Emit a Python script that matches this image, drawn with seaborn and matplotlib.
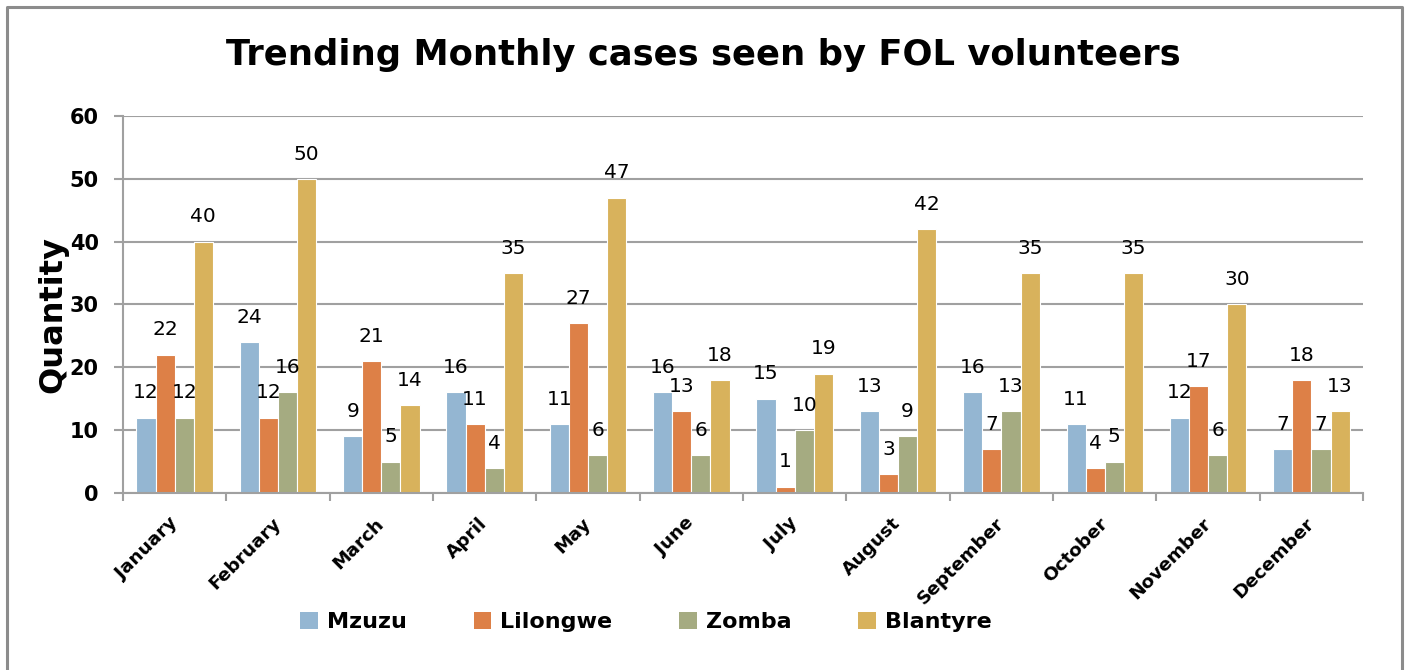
import pandas as pd
import matplotlib
matplotlib.use("Agg")
import matplotlib.pyplot as plt
from matplotlib.lines import Line2D
from matplotlib.patches import Patch
import seaborn as sns

# dados
months = ["January", "February", "March", "April", "May", "June", "July",
          "August", "September", "October", "November", "December"]
mzuzu = [12, 24, 9, 16, 11, 16, 15, 13, 16, 11, 12, 7]
lilongwe = [22, 12, 21, 11, 27, 13, 1, 3, 7, 4, 17, 18]
zomba = [12, 16, 5, 4, 6, 6, 10, 9, 13, 5, 6, 7]
blantyre = [40, 50, 14, 35, 47, 18, 19, 42, 35, 35, 30, 13]
districts = ["Mzuzu", "Lilongwe", "Zomba", "Blantyre"]
colors = ["#94B6D2", "#DD8047", "#A5AB81", "#D8B25C"]

df = pd.DataFrame({"Month": months, "Mzuzu": mzuzu, "Lilongwe": lilongwe,
                   "Zomba": zomba, "Blantyre": blantyre})
long_df = df.melt(id_vars="Month", var_name="District", value_name="Cases")

sns.set_style("white")
plt.rcParams["font.family"] = ["DejaVu Sans"]
plt.rcParams["text.color"] = "black"
plt.rcParams["xtick.labelcolor"] = "black"
plt.rcParams["ytick.labelcolor"] = "black"

fig = plt.figure(figsize=(14.07, 6.70), dpi=100)
ax = fig.add_axes([0.0874, 0.2642, 0.8814, 0.5627])

sns.barplot(data=long_df, x="Month", y="Cases", hue="District",
            hue_order=districts, palette=colors, width=0.74, saturation=1,
            edgecolor="white", linewidth=0.8, ax=ax, legend=False)

for cont in ax.containers:
    ax.bar_label(cont, padding=11, fontsize=14.5, color="black")

ax.set_ylim(0, 60)
ax.set_xlim(-0.5, 11.5)
ax.set_yticks(range(0, 61, 10))
ax.yaxis.grid(True, color="#A0A0A0", linewidth=1.5)
ax.set_axisbelow(True)
ax.set_xlabel("")
ax.set_ylabel("")

for s in ["top", "right"]:
    ax.spines[s].set_visible(False)
for s in ["left", "bottom"]:
    ax.spines[s].set_color("#A0A0A0")
    ax.spines[s].set_linewidth(1.5)

ax.tick_params(axis="y", which="major", left=True, length=6.5, width=1.5,
               color="#A0A0A0", pad=11, labelsize=15)
for t in ax.get_yticklabels():
    t.set_fontweight("bold")

# ticks entre categorias
ax.set_xticks([i - 0.5 for i in range(13)], minor=True)
ax.tick_params(axis="x", which="minor", bottom=True, length=6, width=1.5,
               color="#A0A0A0")
ax.tick_params(axis="x", which="major", bottom=False, length=0, pad=20)
ax.set_xticks(range(12))
ax.set_xticklabels(months, rotation=45, ha="right", va="center",
                   rotation_mode="anchor", fontsize=13.3, fontweight="bold")

fig.text(0.5, 1 - 55 / 670, "Trending Monthly cases seen by FOL volunteers",
         ha="center", va="center", fontsize=25.5, fontweight="bold")
fig.text(53 / 1407, 1 - 315 / 670, "Quantity", ha="center", va="center",
         rotation=90, fontsize=23, fontweight="bold")

handles = [Patch(facecolor=c, edgecolor="none") for c in colors]
fig.legend(handles, districts, loc="center", bbox_to_anchor=(0.459, 1 - 622 / 670),
           ncol=4, frameon=False, prop={"weight": "bold", "size": 16},
           handlelength=0.8, handleheight=0.8, handletextpad=0.4,
           columnspacing=3.0)

# moldura
bx0, bx1, by1 = 7 / 1407, 1402 / 1407, 1 - 7 / 670
fig.add_artist(Line2D([bx0, bx0, bx1, bx1], [0, by1, by1, 0],
                      transform=fig.transFigure, color="#8C8C8C", linewidth=2.2))

fig.savefig("out.png", dpi=100)
